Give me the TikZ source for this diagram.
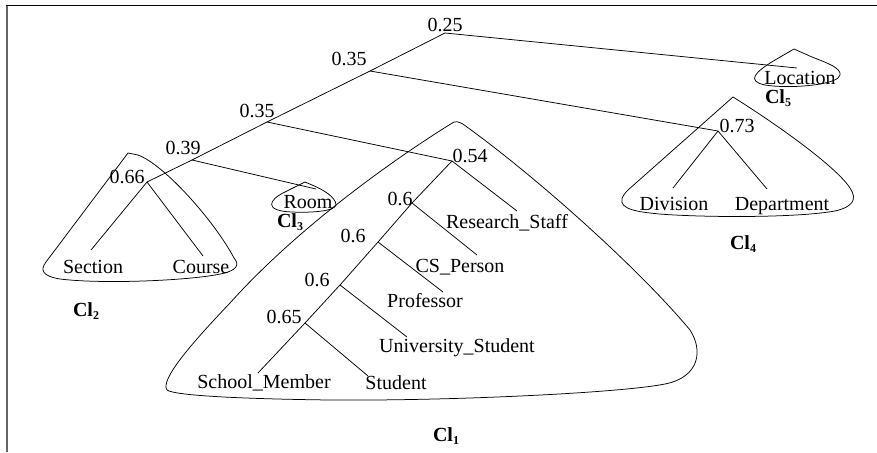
\documentclass[tikz,border=0pt]{standalone}
\usepackage{fontspec}
\setmainfont{Liberation Serif}
\begin{document}
\begin{tikzpicture}[x=1pt,y=-1pt,
  txt/.style={inner sep=0pt, outer sep=0pt, anchor=base, font=\fontsize{20}{24}\selectfont},
  weight/.style={txt},
  leaf/.style={txt},
  cluster/.style={txt, anchor=base west, font=\fontsize{20}{24}\selectfont\bfseries},
  link/.style={line width=0.75pt},
  hull/.style={line width=0.75pt}]
\useasboundingbox (0,0) rectangle (877,452);

% frame
\draw[line width=1.8pt, black!60] (7,452) -- (7,5);
\draw[line width=0.9pt] (6.1,5) -- (877,5);

% junctions of the dendrogram
\coordinate (j25)  at (445,33);
\coordinate (j35a) at (370,71);
\coordinate (j35b) at (267,122);
\coordinate (j39)  at (192,160);
\coordinate (j66)  at (147,182);
\coordinate (j73)  at (718,131);
\coordinate (j54)  at (452,161);
\coordinate (j60a) at (412,203);
\coordinate (j60b) at (378,242);
\coordinate (j60c) at (340,285);
\coordinate (j65)  at (305,323);

% similarity values
\node[weight] (w25)  at (445,32)  {0.25};
\node[weight] (w35a) at (349,65)  {0.35};
\node[weight] (w35b) at (257,117) {0.35};
\node[weight] (w39)  at (183,154) {0.39};
\node[weight] (w66)  at (127,183) {0.66};
\node[weight] (w73)  at (737,132) {0.73};
\node[weight] (w54)  at (470,162) {0.54};
\node[weight] (w60a) at (400,205) {0.6};
\node[weight] (w60b) at (353,242) {0.6};
\node[weight] (w60c) at (317,286) {0.6};
\node[weight] (w65)  at (284,323) {0.65};

% leaves
\node[leaf] (location) at (800,84)  {Location};
\node[leaf] (room)     at (308,208) {Room};
\node[leaf] (division) at (674,210) {Division};
\node[leaf] (dept)     at (782,210) {Department};
\node[leaf] (section)  at (93,273)  {Section};
\node[leaf] (course)   at (201,273) {Course};
\node[leaf] (rstaff)   at (507,228) {Research\_Staff};
\node[leaf] (csp)      at (460,272) {CS\_Person};
\node[leaf] (prof)     at (425,307) {Professor};
\node[leaf] (ustud)    at (457,352) {University\_Student};
\node[leaf] (school)   at (264,388) {School\_Member};
\node[leaf] (student)  at (396,389) {Student};

% cluster names
\node[cluster] (cl1) at (433,441) {Cl\raisebox{-3pt}{\fontsize{12}{12}\selectfont 1}};
\node[cluster] (cl2) at (73,316)  {Cl\raisebox{-3pt}{\fontsize{12}{12}\selectfont 2}};
\node[cluster] (cl3) at (277,227) {Cl\raisebox{-3pt}{\fontsize{12}{12}\selectfont 3}};
\node[cluster] (cl4) at (730,249) {Cl\raisebox{-3pt}{\fontsize{12}{12}\selectfont 4}};
\node[cluster] (cl5) at (765,103) {Cl\raisebox{-3pt}{\fontsize{12}{12}\selectfont 5}};

% ends of the branches, just above each leaf text
\coordinate (eLoc) at (797,68);
\coordinate (eRoom) at (316,189);
\coordinate (eSec) at (91,250);
\coordinate (eCou) at (203,256);
\coordinate (eDiv) at (673,188);
\coordinate (eDep) at (767,189);
\coordinate (eRS)  at (517,211);
\coordinate (eCS)  at (477,255);
\coordinate (ePro) at (443,292);
\coordinate (eUni) at (407,337);
\coordinate (eSch) at (258,373);
\coordinate (eStu) at (368,376);

% branches
\draw[link] (j66) -- (j39) -- (j35b) -- (j35a) -- (j25);
\draw[link] (j25) -- (eLoc);
\draw[link] (j35a) -- (j73);
\draw[link] (j35b) -- (j54);
\draw[link] (j39) -- (eRoom);
\draw[link] (j66) -- (eSec);
\draw[link] (j66) -- (eCou);
\draw[link] (j73) -- (eDiv);
\draw[link] (j73) -- (eDep);
\draw[link] (j54) -- (eRS);
\draw[link] (j54) -- (j60a) -- (j60b) -- (j60c) -- (j65) -- (eSch);
\draw[link] (j60a) -- (eCS);
\draw[link] (j60b) -- (ePro);
\draw[link] (j60c) -- (eUni);
\draw[link] (j65) -- (eStu);

% cluster outlines
% Cl2
\draw[hull] (128,153) -- (46,262) .. controls (40,270) and (42,276) .. (60,279)
  .. controls (100,284) and (180,281) .. (215,275)
  .. controls (240,271) and (239,264) .. (234,258)
  .. controls (215,222) and (165,165) .. (138,155) -- cycle;
% Cl3
\draw[hull] (305,182) -- (285,192) .. controls (268,200) and (264,211) .. (292,212)
  .. controls (312,213) and (335,211) .. (336,205)
  .. controls (336,197) and (322,189) .. (312,185) -- cycle;
% Cl5
\draw[hull] (794,49) -- (775,60) .. controls (755,72) and (746,81) .. (765,85)
  .. controls (790,89) and (830,85) .. (838,78)
  .. controls (846,70) and (830,64) .. (812,57) -- cycle;
% Cl4
\draw[hull] (733,97) .. controls (770,120) and (835,165) .. (850,188)
  .. controls (858,200) and (852,207) .. (835,211)
  .. controls (790,219) and (680,217) .. (650,213)
  .. controls (622,210) and (615,203) .. (628,190) -- cycle;
% Cl1
\draw[hull] (454,122) .. controls (400,155) and (300,225) .. (230,303)
  .. controls (190,345) and (160,380) .. (167,390)
  .. controls (175,396) and (250,399) .. (330,400)
  .. controls (450,401) and (620,393) .. (665,384)
  .. controls (700,377) and (703,350) .. (690,330)
  .. controls (640,270) and (540,180) .. (467,127)
  .. controls (462,123) and (458,121) .. (454,122) -- cycle;
\end{tikzpicture}
\end{document}
